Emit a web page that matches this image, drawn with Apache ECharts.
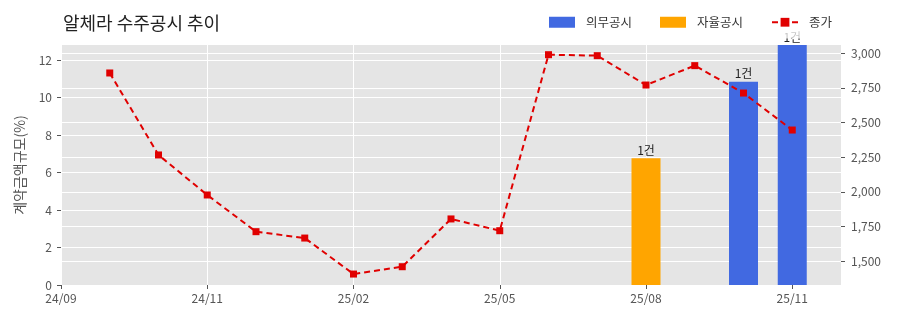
<!DOCTYPE html>
<html>
<head>
<meta charset="utf-8">
<script src="https://cdn.jsdelivr.net/npm/echarts@6/dist/echarts.min.js"></script>
<style>
html,body{margin:0;padding:0;background:#fff;}
#c{width:900px;height:323px;}
</style>
</head>
<body>
<div id="c"></div>
<script>
var categories = ['24/09','24/10a','24/10b','24/11','24/12','25/01','25/02','25/03','25/04','25/05','25/06','25/07','25/08','25/09','25/10','25/11','25/12'];
var tickLabels = ['24/09','24/11','25/02','25/05','25/08','25/11'];
var mandatory = [null,null,null,null,null,null,null,null,null,null,null,null,null,null,10.84,12.8,null];
var voluntary = [null,null,null,null,null,null,null,null,null,null,null,null,6.76,null,null,null,null];
var closePrice = [null,2858,2266,1977,1712,1666,1406,1459,1804,1719,2990,2983,2771,2911,2713,2446,null];
var leftTicks = [0,2,4,6,8,10,12];
var rightTicks = [1500,1750,2000,2250,2500,2750,3000];

var FONT = '"Noto Sans CJK KR", "Noto Sans", sans-serif';
var chart = echarts.init(document.getElementById('c'), null, {renderer:'canvas'});
var barLabel = {show:true, position:'top', formatter:'1건', color:'#222', fontSize:12, fontFamily:FONT, distance:2};

chart.setOption({
  animation:false,
  backgroundColor:'#ffffff',
  textStyle:{fontFamily:FONT},
  title:{text:'알체라 수주공시 추이', left:58, top:9, textStyle:{fontSize:18, fontWeight:'normal', color:'#222', fontFamily:FONT}},
  legend:{
    right:60, top:10, itemGap:28, itemWidth:26, itemHeight:11,
    backgroundColor:'rgba(255,255,255,0.75)', padding:[6,8,10,8], z:10,
    textStyle:{fontSize:12.5, color:'#333', fontFamily:FONT, padding:[0,0,0,6]},
    data:[{name:'의무공시', icon:'rect'},{name:'자율공시', icon:'rect'},{name:'종가'}]
  },
  grid:{left:61, right:59, top:45, bottom:38, show:true, backgroundColor:'#e5e5e5', borderWidth:0},
  xAxis:{
    type:'category', data:categories, boundaryGap:false,
    axisLine:{show:false},
    axisTick:{show:true, interval:2, length:4, lineStyle:{color:'#555'}},
    axisLabel:{interval:2, color:'#555', fontSize:12, fontFamily:FONT, margin:7,
      formatter:function(v,i){return tickLabels[Math.round(i/3)] || '';}},
    splitLine:{show:true, interval:2, lineStyle:{color:'#ffffff', width:1}}
  },
  yAxis:[
    {type:'value', min:0, max:12.8, position:'left',
     name:'계약금액규모(%)', nameLocation:'middle', nameGap:34, nameRotate:90,
     nameTextStyle:{color:'#555', fontSize:14, fontFamily:FONT},
     axisLine:{show:false},
     axisTick:{show:true, length:4, lineStyle:{color:'#555'}, customValues:leftTicks},
     axisLabel:{color:'#555', fontSize:12, fontFamily:FONT, margin:9, customValues:leftTicks},
     splitLine:{show:true, lineStyle:{color:'#ffffff', width:1}}},
    {type:'value', min:1327, max:3060, position:'right',
     axisLine:{show:false},
     axisTick:{show:true, length:4, lineStyle:{color:'#555'}, customValues:rightTicks},
     axisLabel:{color:'#555', fontSize:12, fontFamily:FONT, margin:10, customValues:rightTicks,
       formatter:function(v){return v.toLocaleString('en-US');}},
     splitLine:{show:true, lineStyle:{color:'#ffffff', width:1}}}
  ],
  series:[
    {name:'의무공시', type:'bar', data:mandatory, barWidth:29, barGap:'-100%', itemStyle:{color:'#4169e1'}, label:barLabel, z:2},
    {name:'자율공시', type:'bar', data:voluntary, barWidth:29, itemStyle:{color:'#ffa500'}, label:barLabel, z:2},
    {name:'종가', type:'line', yAxisIndex:1, data:closePrice, symbol:'rect', symbolSize:7,
     itemStyle:{color:'#e00000'}, lineStyle:{color:'#e00000', width:2, type:[6,4]}, z:5, connectNulls:false}
  ]
});
</script>
</body>
</html>
